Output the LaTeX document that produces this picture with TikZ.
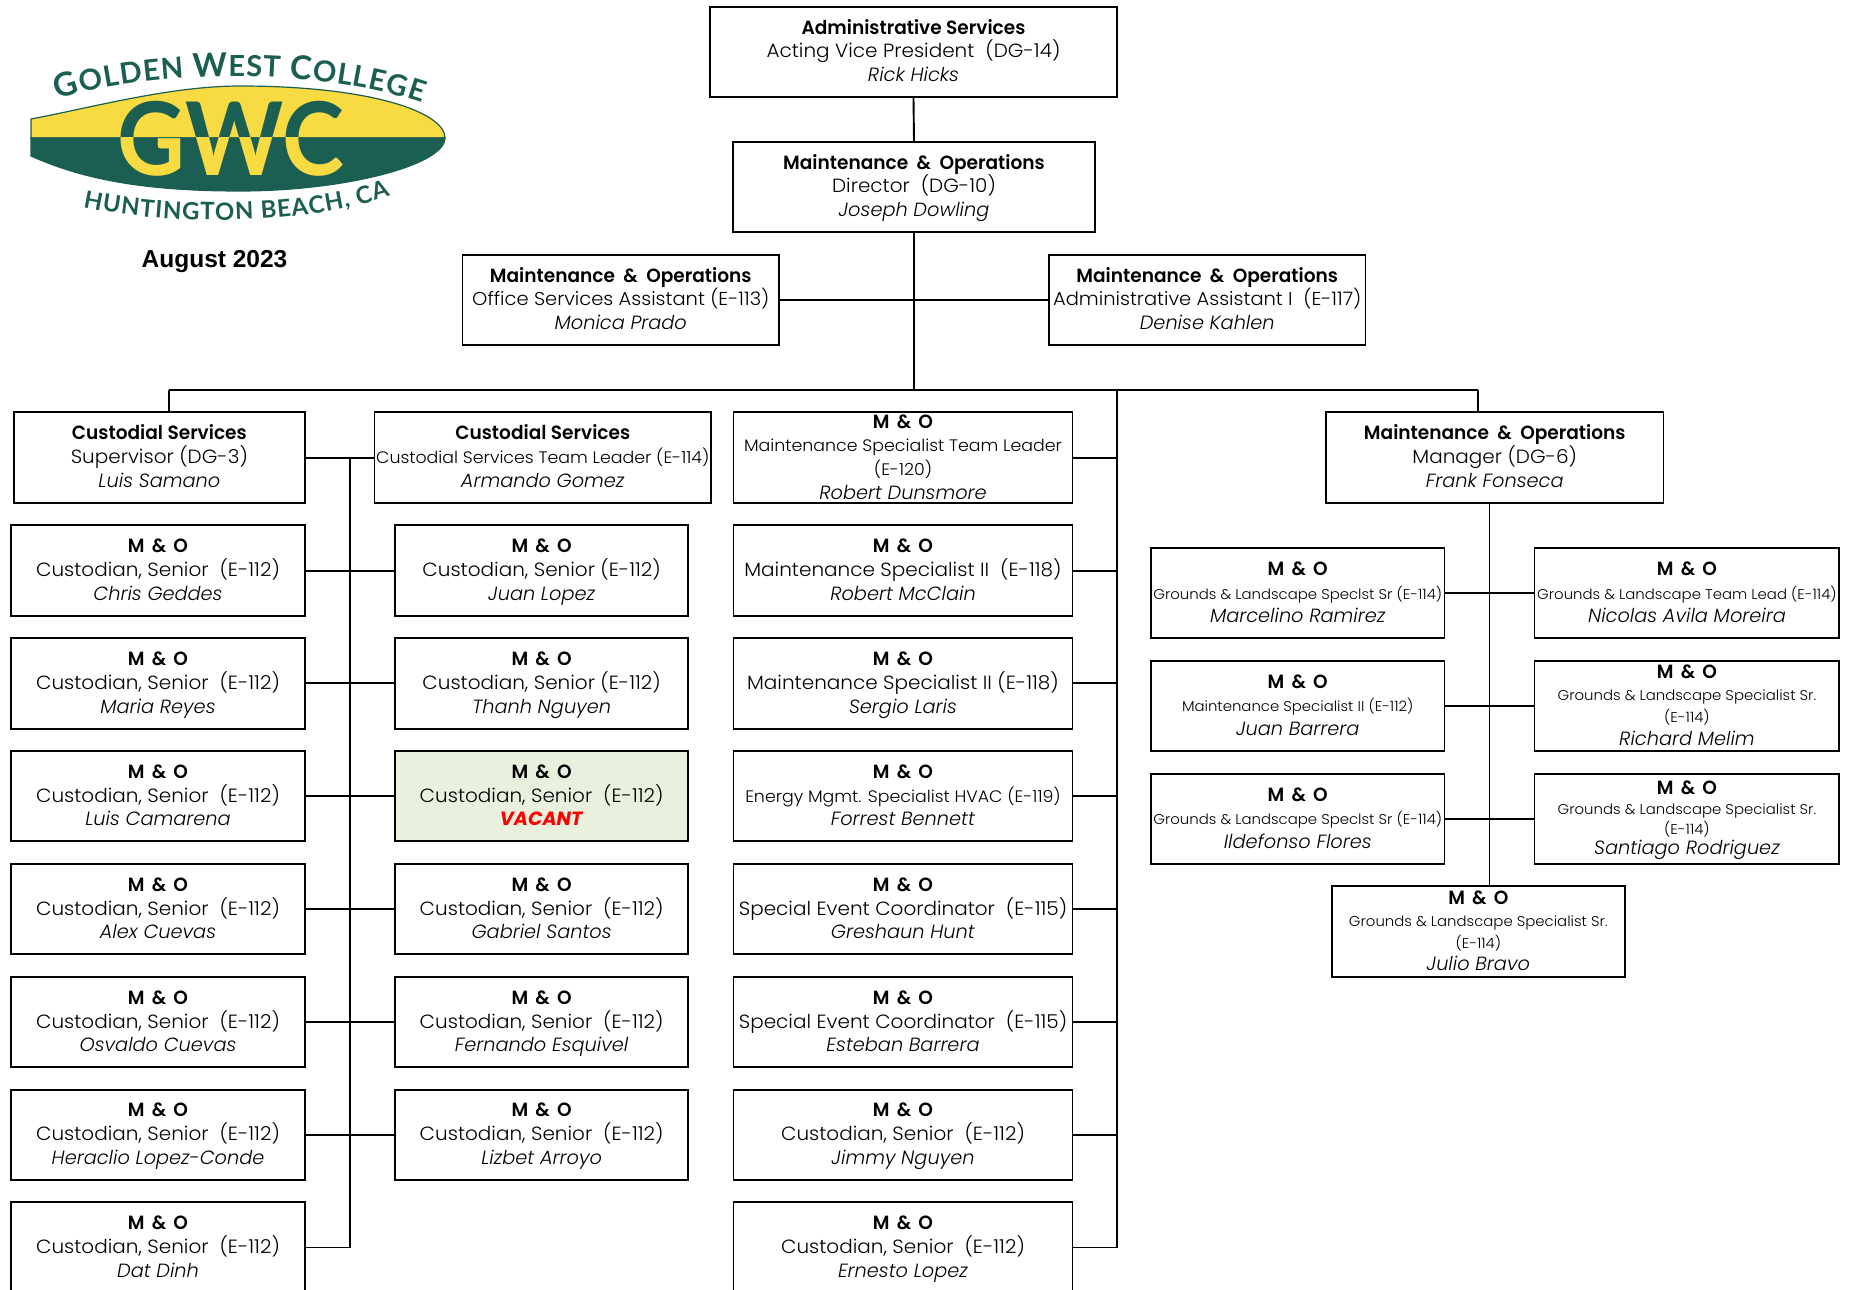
\documentclass[tikz,border=0pt]{standalone}
\usepackage{fontspec}
\setmainfont{Poppins}[UprightFont=* Light,ItalicFont=* Light Italic,BoldFont=* SemiBold,BoldItalicFont=* Bold Italic,UprightFeatures={FakeStretch=1.045},BoldFeatures={FakeStretch=0.97},ItalicFeatures={FakeStretch=1.01},BoldItalicFeatures={FakeStretch=1.0}]
\newfontfamily\arialf{Liberation Sans}
\newfontfamily\logof{Lato}
\usetikzlibrary{decorations.text}
\definecolor{gwcgreen}{HTML}{1B5E52}
\definecolor{gwcyellow}{HTML}{F8DA42}
\definecolor{vacfill}{HTML}{E9F0DD}
\tikzset{
  orgbox/.style={draw=black,line width=0.95bp,inner sep=0pt,font=\orgfont},
  orgtext/.style={inner sep=0pt,align=center,text=black,font=\orgfont},
  tight/.style={font=\orgtight},
  mid/.style={font=\orgmid},
  link/.style={draw=black,line width=0.95bp},
}
\newcommand{\orgfont}{\fontsize{9.6}{11.95}\selectfont\lineskiplimit=-1000pt}
\newcommand{\orgmid}{\fontsize{9.6}{11.1}\selectfont\lineskiplimit=-1000pt}
\newcommand{\orgtight}{\fontsize{9.6}{10}\selectfont\lineskiplimit=-1000pt}
\newcommand{\lm}[1]{{\fontsize{9.35}{11.9}\selectfont #1}}
\newcommand{\lt}[1]{{\fontsize{8.35}{11.9}\selectfont #1}}
\newcommand{\ls}[1]{{\fontsize{7.15}{11.9}\selectfont #1}}
\newcommand{\strA}{\rule{0pt}{9.5pt}}
\newcommand{\strB}{\rule[-3.5pt]{0pt}{3.5pt}}
\newcommand{\bx}[6][]{%
  \pgfmathsetmacro\bw{(#5-#3)*0.5}%
  \pgfmathsetmacro\bh{(#6-#4)*0.5}%
  \node[orgbox,minimum width=\bw bp,minimum height=\bh bp,#1] (#2) at ({(#3+#5)/2},{(#4+#6)/2}) {};%
  \node[orgtext,#1,draw=none,fill=none] (#2-t) at (#2.center) {\boxtext};%
}
\newcommand{\amp}{\kern1.4pt\&\kern1.4pt}
\newcommand{\ampw}{\kern2pt\&\kern2pt}
\newcommand{\tl}[3]{\def\boxtext{\strA\textbf{#1}\\#2\\\textit{#3}\strB}}
\newcommand{\mo}[2]{\def\boxtext{\strA\textbf{M \amp{} O}\\#1\\\textit{#2}\strB}}
\newcommand{\mofour}[3]{\def\boxtext{\strA\textbf{M \amp{} O}\\#1\\#2\\\textit{#3}\strB}}
\newcommand{\gwcface}{\logof\bfseries\fontsize{51}{51}\selectfont}
\begin{document}
\begin{tikzpicture}[x=0.5bp,y=-0.5bp]
\useasboundingbox (0,0) rectangle (1850,1290);
% ---- logo
\path[fill=gwcyellow,draw=gwcgreen,line width=0.6pt] (31,119) .. controls (90,108) and (170,86) .. (240,86) .. controls (370,86) and (445,112) .. (445,138) -- (31,138) -- cycle;
\path[fill=gwcgreen,draw=gwcgreen,line width=0.6pt] (31,138) -- (445,138) .. controls (445,165) and (345,191) .. (240,191) .. controls (140,191) and (80,178) .. (31,156) -- cycle;
\begin{scope}
\clip (100,90) rectangle (360,138);
\node[text=gwcgreen,inner sep=0pt,anchor=center] (gwcu) at (231,139) {\scalebox{0.92}[1]{\gwcface GWC}};
\end{scope}
\begin{scope}
\clip (100,138) rectangle (360,190);
\node[text=gwcyellow,inner sep=0pt,anchor=center] (gwcl) at (231,139) {\scalebox{0.92}[1]{\gwcface GWC}};
\end{scope}
\path[decorate,decoration={text along path,text align={fit to path},text color=gwcgreen,
  text={|\logof\bfseries\fontsize{16.5}{17}\selectfont|G|\logof\bfseries\fontsize{14.6}{14}\selectfont|OLDEN |\logof\bfseries\fontsize{16.5}{17}\selectfont|W|\logof\bfseries\fontsize{14.6}{14}\selectfont|EST |\logof\bfseries\fontsize{16.5}{17}\selectfont|C|\logof\bfseries\fontsize{14.6}{14}\selectfont|OLLEGE}}]
  (58,100) .. controls (120,75) and (300,61) .. (422,103);
\path[decorate,decoration={text along path,text align={fit to path},text color=gwcgreen,
  text={|\logof\bfseries\fontsize{12}{12}\selectfont|HUNTINGTON BEACH, CA}}]
  (83,207) .. controls (170,226) and (300,226) .. (390,196);
\node[inner sep=0pt,font=\arialf\bfseries\fontsize{12.3}{14}\selectfont] (date) at (214.5,261.5) {August 2023};
% ---- top boxes
\tl{Administrative Services}{Acting Vice President~ (DG-14)}{Rick Hicks}
\bx{top}{710}{7}{1117}{97}
\tl{Maintenance \ampw{} Operations}{Director~ (DG-10)}{Joseph Dowling}
\bx{dir}{733}{142}{1095}{232}
\tl{Maintenance \ampw{} Operations}{\lm{Office Services Assistant (E-113)}}{Monica Prado}
\bx{osa}{462.5}{255}{779}{345}
\tl{Maintenance \ampw{} Operations}{\lm{Administrative Assistant I~ (E-117)}}{Denise Kahlen}
\bx{aa}{1049}{255}{1365.5}{345}
% ---- head row
\tl{Custodial Services}{Supervisor (DG-3)}{Luis Samano}
\bx{sup}{14}{412.3}{304.7}{503.3}
\tl{Custodial Services}{\lt{Custodial Services Team Leader (E-114)}}{Armando Gomez}
\bx{ctl}{374.5}{412.3}{711}{503.3}
\mofour{\lt{Maintenance Specialist Team Leader}}{\lt{(E-120)}}{Robert Dunsmore}
\bx{mtl}{733.5}{412.3}{1072.5}{503.3}
\tl{Maintenance \ampw{} Operations}{Manager (DG-6)}{Frank Fonseca}
\bx{mgr}{1326}{412.3}{1663.5}{503.3}
% ---- custodians, left column
\mo{Custodian, Senior~ (E-112)}{Chris Geddes}
\bx{a1}{11.3}{525.3}{304.7}{616}
\mo{Custodian, Senior~ (E-112)}{Maria Reyes}
\bx{a2}{11.3}{638.2}{304.7}{728.6}
\mo{Custodian, Senior~ (E-112)}{Luis Camarena}
\bx{a3}{11.3}{751}{304.7}{841.4}
\mo{Custodian, Senior~ (E-112)}{Alex Cuevas}
\bx{a4}{11.3}{864}{304.7}{954.4}
\mo{Custodian, Senior~ (E-112)}{Osvaldo Cuevas}
\bx{a5}{11.3}{976.9}{304.7}{1067.3}
\mo{Custodian, Senior~ (E-112)}{Heraclio Lopez-Conde}
\bx{a6}{11.3}{1089.6}{304.7}{1180}
\mo{Custodian, Senior~ (E-112)}{Dat Dinh}
\bx{a7}{11.3}{1202.3}{304.7}{1292.7}
% ---- custodians, second column
\mo{Custodian, Senior (E-112)}{Juan Lopez}
\bx{b1}{395}{525.3}{688.3}{616}
\mo{Custodian, Senior (E-112)}{Thanh Nguyen}
\bx{b2}{395}{638.2}{688.3}{728.6}
\def\boxtext{\strA\textbf{M \amp{} O}\\Custodian, Senior~ (E-112)\\\textcolor{red}{\textbf{\textit{VACANT}}}\strB}
\bx[fill=vacfill]{b3}{395}{751}{688.3}{841.4}
\mo{Custodian, Senior~ (E-112)}{Gabriel Santos}
\bx{b4}{395}{864}{688.3}{954.4}
\mo{Custodian, Senior~ (E-112)}{Fernando Esquivel}
\bx{b5}{395}{976.9}{688.3}{1067.3}
\mo{Custodian, Senior~ (E-112)}{Lizbet Arroyo}
\bx{b6}{395}{1089.6}{688.3}{1180}
% ---- third column
\mo{Maintenance Specialist II~ (E-118)}{Robert McClain}
\bx{c1}{733.5}{525.3}{1072.5}{616}
\mo{Maintenance Specialist II (E-118)}{Sergio Laris}
\bx{c2}{733.5}{638.2}{1072.5}{728.6}
\mo{\lt{Energy Mgmt. Specialist HVAC (E-119)}}{Forrest Bennett}
\bx{c3}{733.5}{751}{1072.5}{841.4}
\mo{Special Event Coordinator~ (E-115)}{Greshaun Hunt}
\bx{c4}{733.5}{864}{1072.5}{954.4}
\mo{Special Event Coordinator~ (E-115)}{Esteban Barrera}
\bx{c5}{733.5}{976.9}{1072.5}{1067.3}
\mo{Custodian, Senior~ (E-112)}{Jimmy Nguyen}
\bx{c6}{733.5}{1089.6}{1072.5}{1180}
\mo{Custodian, Senior~ (E-112)}{Ernesto Lopez}
\bx{c7}{733.5}{1202.3}{1072.5}{1292.7}
% ---- grounds
\mo{\ls{Grounds \& Landscape Speclst Sr (E-114)}}{Marcelino Ramirez}
\bx{d1}{1151}{548}{1444.5}{638.3}
\mo{\ls{Grounds \& Landscape Team Lead (E-114)}}{Nicolas Avila Moreira}
\bx{e1}{1534.5}{548}{1839.4}{638.3}
\mo{\ls{Maintenance Specialist II (E-112)}}{Juan Barrera}
\bx{d2}{1151}{660.7}{1444.5}{751}
\mofour{\ls{Grounds \& Landscape Specialist Sr.}}{\ls{(E-114)}}{Richard Melim}
\bx[mid]{e2}{1534.5}{660.7}{1839.4}{751}
\mo{\ls{Grounds \& Landscape Speclst Sr (E-114)}}{Ildefonso Flores}
\bx{d3}{1151}{773.7}{1444.5}{864}
\mofour{\ls{Grounds \& Landscape Specialist Sr.}}{\ls{(E-114)}}{Santiago Rodriguez}
\bx[tight]{e3}{1534.5}{773.7}{1839.4}{864}
\mofour{\ls{Grounds \& Landscape Specialist Sr.}}{\ls{(E-114)}}{Julio Bravo}
\bx[mid]{f1}{1331.6}{886}{1625}{977.3}
% ---- connector junctions
\coordinate (busM) at (914,390);
\coordinate (busL) at (169,390);
\coordinate (busR) at (1478,390);
\coordinate (busJ) at (1117,390);
\coordinate (lsp) at (350,457);
\coordinate (rsp) at (1489.5,503.3);
% ---- connectors
\draw[link] (top.south) -- (dir.north);
\draw[link] (dir.south) -- (busM);
\draw[link] (osa.east) -- (aa.west);
\draw[link] (busL) -- (busR);
\draw[link] (busL) -- (busL |- sup.north);
\draw[link] (busR) -- (busR |- mgr.north);
\draw[link] (sup.east) -- (ctl.west);
\draw[link] (lsp) -- (lsp |- a7.east);
\foreach \l/\r in {a1/b1,a2/b2,a3/b3,a4/b4,a5/b5,a6/b6} \draw[link] (\l.east) -- (\r.west);
\draw[link] (a7.east) -- (a7.east -| lsp);
\draw[link] (busJ) -- (busJ |- c7.east);
\foreach \c in {mtl,c1,c2,c3,c4,c5,c6,c7} \draw[link] (\c.east) -- (\c.east -| busJ);
\draw[link] (rsp) -- (rsp |- f1.north);
\foreach \l/\r in {d1/e1,d2/e2,d3/e3} \draw[link] (\l.east) -- (\r.west);
\end{tikzpicture}
\end{document}
